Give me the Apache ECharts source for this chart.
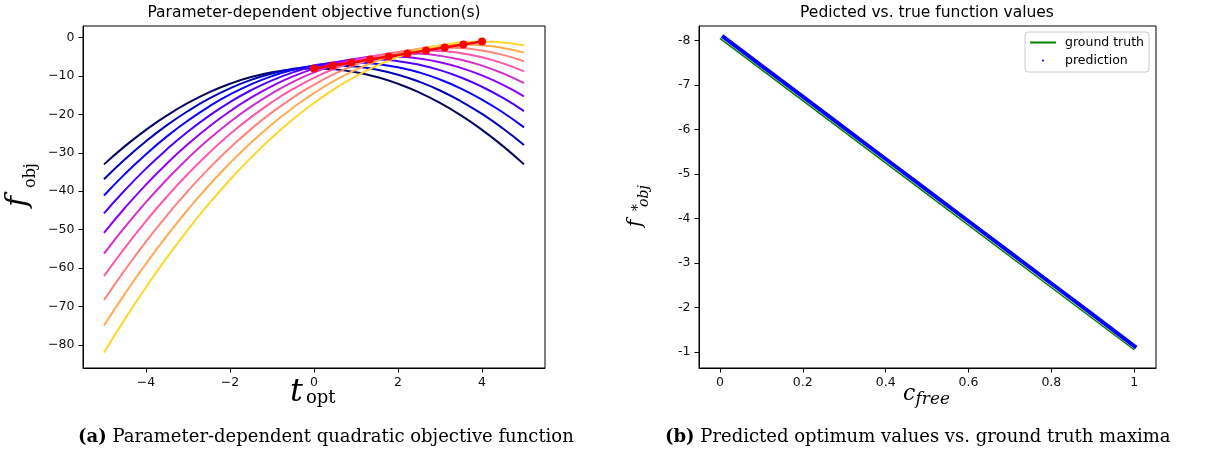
<!DOCTYPE html>
<html>
<head>
<meta charset="utf-8">
<script src="https://cdn.jsdelivr.net/npm/echarts@6/dist/echarts.min.js"></script>
<style>
html,body{margin:0;padding:0;background:#fff;}
#chart{width:1211px;height:459px;}
</style>
</head>
<body>
<div id="chart"></div>
<script>
// ---- data ----
const tOpt = [-5, -4.5, -4, -3.5, -3, -2.5, -2, -1.5, -1, -0.5, 0, 0.5, 1, 1.5, 2, 2.5, 3, 3.5, 4, 4.5, 5];
const fObj0 = [-33, -28.25, -24, -20.25, -17, -14.25, -12, -10.25, -9, -8.25, -8, -8.25, -9, -10.25, -12, -14.25, -17, -20.25, -24, -28.25, -33];
const fObj1 = [-36.86, -31.67, -26.98, -22.78, -19.09, -15.89, -13.2, -11.0, -9.31, -8.11, -7.42, -7.23, -7.53, -8.34, -9.64, -11.45, -13.75, -16.56, -19.86, -23.67, -27.98];
const fObj2 = [-41.12, -35.48, -30.35, -25.71, -21.57, -17.93, -14.79, -12.15, -10.01, -8.37, -7.23, -6.6, -6.46, -6.82, -7.68, -9.04, -10.9, -13.26, -16.12, -19.48, -23.35];
const fObj3 = [-45.78, -39.69, -34.11, -29.03, -24.44, -20.36, -16.78, -13.69, -11.11, -9.03, -7.44, -6.36, -5.78, -5.69, -6.11, -7.03, -8.44, -10.36, -12.78, -15.69, -19.11];
const fObj4 = [-50.83, -44.3, -38.27, -32.75, -27.72, -23.19, -19.16, -15.63, -12.6, -10.08, -8.05, -6.52, -5.49, -4.97, -4.94, -5.41, -6.38, -7.86, -9.83, -12.3, -15.27];
const fObj5 = [-56.27, -49.3, -42.83, -36.86, -31.38, -26.41, -21.94, -17.97, -14.49, -11.52, -9.05, -7.08, -5.6, -4.63, -4.16, -4.19, -4.72, -5.74, -7.27, -9.3, -11.83];
const fObj6 = [-62.11, -54.69, -47.78, -41.36, -35.44, -30.03, -25.11, -20.69, -16.78, -13.36, -10.44, -8.03, -6.11, -4.69, -3.78, -3.36, -3.44, -4.03, -5.11, -6.69, -8.78];
const fObj7 = [-68.35, -60.49, -53.12, -46.26, -39.9, -34.04, -28.68, -23.82, -19.46, -15.6, -12.23, -9.37, -7.01, -5.15, -3.79, -2.93, -2.57, -2.71, -3.35, -4.48, -6.12];
const fObj8 = [-74.98, -66.67, -58.87, -51.56, -44.76, -38.45, -32.64, -27.34, -22.53, -18.23, -14.42, -11.11, -8.31, -6.0, -4.2, -2.89, -2.09, -1.78, -1.98, -2.67, -3.86];
const fObj9 = [-82, -73.25, -65, -57.25, -50, -43.25, -37, -31.25, -26, -21.25, -17, -13.25, -10, -7.25, -5, -3.25, -2, -1.25, -1, -1.25, -2];
const curveList = [fObj0, fObj1, fObj2, fObj3, fObj4, fObj5, fObj6, fObj7, fObj8, fObj9];
const curveColors = ['#05055e', '#0000ba', '#0b00ff', '#4d00ff', '#8e00fa', '#d02ed0', '#ff58a7', '#ff827d', '#ffac53', '#ffd629'];

const peakT = [0, 0.444, 0.889, 1.333, 1.778, 2.222, 2.667, 3.111, 3.556, 4];
const peakF = [-8, -7.22, -6.44, -5.67, -4.89, -4.11, -3.33, -2.56, -1.78, -1];

const cFreeTruth = [0, 0.5, 1];
const fTruth = [-8.05, -4.55, -1.05];
const cFreePred = [0.005, 0.1, 0.2, 0.3, 0.4, 0.5, 0.6, 0.7, 0.8, 0.9, 1.005];
const fPred = [-8.11, -7.44, -6.74, -6.04, -5.34, -4.64, -3.94, -3.24, -2.54, -1.84, -1.1];

const leftXTicks = [-4, -2, 0, 2, 4];
const leftYTicks = [0, -10, -20, -30, -40, -50, -60, -70, -80];
const rightXTicks = [0, 0.2, 0.4, 0.6, 0.8, 1];
const rightYTicks = [-8, -7, -6, -5, -4, -3, -2, -1];

// ---- chart ----
const chart = echarts.init(document.getElementById('chart'), null, {renderer: 'canvas'});
const tickFont = {fontFamily: 'DejaVu Sans', fontSize: 12.5, color: '#111'};
const minusFmt = v => (v < 0 ? '\u2212' + (-v) : String(v));

function mkAxis(gridIndex, min, max, ticks, fmt, extra) {
  return Object.assign({
    type: 'value', gridIndex, min, max,
    axisLine: {show: true, onZero: false, lineStyle: {color: '#000', width: 1}},
    axisTick: {show: true, length: 4.5, customValues: ticks, lineStyle: {color: '#000', width: 1}},
    axisLabel: Object.assign({show: true, margin: 8.5, customValues: ticks, formatter: fmt}, tickFont),
    splitLine: {show: false}
  }, extra || {});
}

const series = [];
curveList.forEach((vals, i) => {
  series.push({
    type: 'line', xAxisIndex: 0, yAxisIndex: 0, smooth: true, symbol: 'none',
    data: tOpt.map((t, j) => [t, vals[j]]),
    lineStyle: {color: curveColors[i], width: 2},
    itemStyle: {color: curveColors[i]},
    z: 2 + i, silent: true
  });
});
series.push({
  type: 'line', xAxisIndex: 0, yAxisIndex: 0, symbol: 'circle', symbolSize: 8,
  data: peakT.map((t, j) => [t, peakF[j]]),
  lineStyle: {color: '#ff0000', width: 2.5},
  itemStyle: {color: '#ff0000'}, z: 20, silent: true
});
series.push({
  name: 'ground truth', type: 'line', xAxisIndex: 1, yAxisIndex: 1, symbol: 'none',
  data: cFreeTruth.map((c, j) => [c, fTruth[j]]),
  lineStyle: {color: '#008000', width: 1.5},
  itemStyle: {color: '#008000'}, z: 3, silent: true
});
series.push({
  name: 'prediction', type: 'line', xAxisIndex: 1, yAxisIndex: 1, symbol: 'none',
  data: cFreePred.map((c, j) => [c, fPred[j]]),
  lineStyle: {color: '#0000ff', width: 4},
  itemStyle: {color: '#0000ff'}, z: 4, silent: true
});

const serif = '"DejaVu Serif"';
const option = {
  animation: false,
  backgroundColor: '#fff',
  title: [
    {text: 'Parameter-dependent objective function(s)', left: 314, top: 5, textAlign: 'center', padding: 0,
     textStyle: {fontFamily: 'DejaVu Sans', fontSize: 15.5, fontWeight: 'normal', color: '#000'}},
    {text: 'Pedicted vs. true function values', left: 927, top: 5, textAlign: 'center', padding: 0,
     textStyle: {fontFamily: 'DejaVu Sans', fontSize: 15.5, fontWeight: 'normal', color: '#000'}}
  ],
  legend: {
    data: [{name: 'ground truth', icon: 'rect'}, {name: 'prediction', icon: 'circle'}],
    orient: 'vertical', right: 62, top: 32, itemWidth: 26, itemHeight: 2, itemGap: 5,
    padding: [4, 5, 5, 5], borderColor: '#cccccc', borderWidth: 1, borderRadius: 3,
    backgroundColor: 'rgba(255,255,255,0.8)',
    textStyle: {fontFamily: 'DejaVu Sans', fontSize: 12.5, color: '#000', padding: [0, 0, 0, 4]}
  },
  grid: [
    {left: 83, top: 26, width: 462, height: 342, show: true, borderColor: '#000', borderWidth: 1, containLabel: false},
    {left: 699, top: 26, width: 457, height: 342, show: true, borderColor: '#000', borderWidth: 1, containLabel: false}
  ],
  xAxis: [
    mkAxis(0, -5.5, 5.5, leftXTicks, minusFmt),
    mkAxis(1, -0.0506, 1.0526, rightXTicks, v => String(v))
  ],
  yAxis: [
    mkAxis(0, -86.05, 3.05, leftYTicks, minusFmt),
    mkAxis(1, -8.33, -0.64, rightYTicks, v => String(v), {inverse: true})
  ],
  series,
  graphic: [
    // left y label f_obj
    {type: 'group', x: 30, y: 197, rotation: Math.PI / 2, children: [
      {type: 'text', x: -10, y: -11.5, style: {text: 'f', font: 'italic 30px ' + serif, fill: '#000', align: 'left', verticalAlign: 'middle'}},
      {type: 'text', x: 9, y: 0.5, style: {text: 'obj', font: '16px ' + serif, fill: '#000', align: 'left', verticalAlign: 'middle'}}
    ]},
    // left x label t_opt
    {type: 'text', x: 290, y: 393, style: {text: 't', font: 'italic 32px ' + serif, fill: '#000', align: 'left', verticalAlign: 'middle'}},
    {type: 'text', x: 306, y: 398.7, style: {text: 'opt', font: '18px ' + serif, fill: '#000', align: 'left', verticalAlign: 'middle'}},
    // right y label f*_obj
    {type: 'group', x: 637, y: 205, rotation: Math.PI / 2, children: [
      {type: 'text', x: -22, y: -1.3, style: {text: 'f', font: 'italic 20px ' + serif, fill: '#000', align: 'left', verticalAlign: 'middle'}},
      {type: 'text', x: -6, y: 1, style: {text: '*', font: '14px ' + serif, fill: '#000', align: 'left', verticalAlign: 'middle'}},
      {type: 'text', x: -2, y: 7, style: {text: 'obj', font: 'italic 14px ' + serif, fill: '#000', align: 'left', verticalAlign: 'middle'}}
    ]},
    // right x label c_free
    {type: 'text', x: 903, y: 393.8, style: {text: 'c', font: 'italic 22px ' + serif, fill: '#000', align: 'left', verticalAlign: 'middle'}},
    {type: 'text', x: 915.5, y: 399.4, style: {text: 'free', font: 'italic 17px ' + serif, fill: '#000', align: 'left', verticalAlign: 'middle'}},
    // captions
    {type: 'text', x: 78, y: 437, style: {
      text: '{b|(a)} Parameter-dependent quadratic objective function',
      font: '18px ' + serif, fill: '#000', align: 'left', verticalAlign: 'middle',
      rich: {b: {fontWeight: 'bold', fontFamily: 'DejaVu Serif', fontSize: 18, fill: '#000'}}}},
    {type: 'text', x: 665, y: 437, style: {
      text: '{b|(b)} Predicted optimum values vs. ground truth maxima',
      font: '18px ' + serif, fill: '#000', align: 'left', verticalAlign: 'middle',
      rich: {b: {fontWeight: 'bold', fontFamily: 'DejaVu Serif', fontSize: 18, fill: '#000'}}}}
  ]
};
chart.setOption(option);
</script>
</body>
</html>
